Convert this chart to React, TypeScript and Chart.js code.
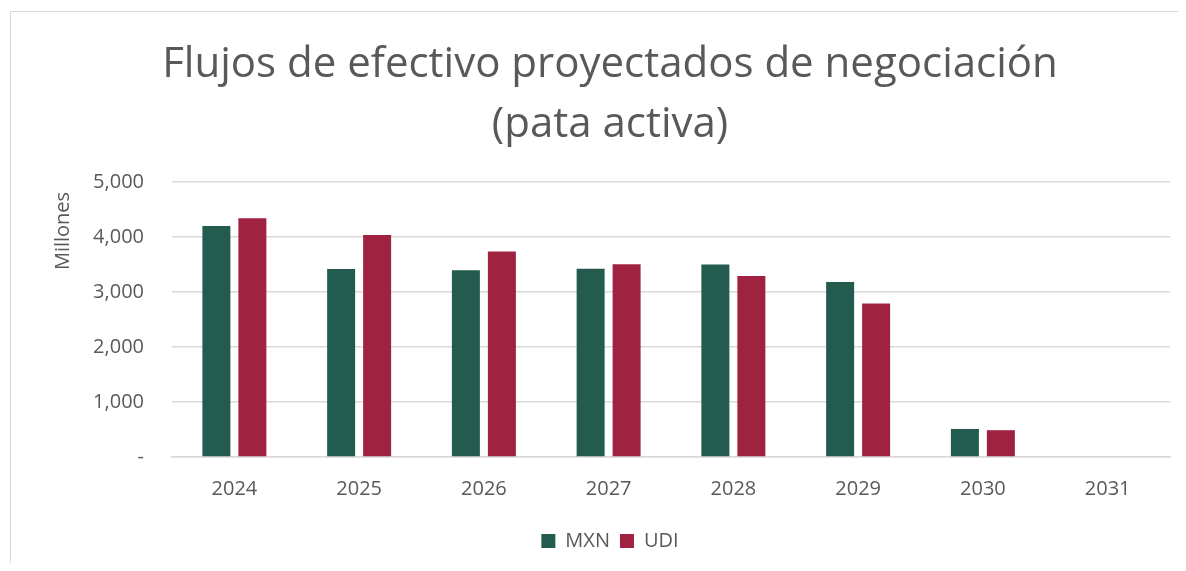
import React, { useEffect, useRef } from "react";
import { Chart, registerables } from "chart.js";

Chart.register(...registerables);

const categories = ["2024", "2025", "2026", "2027", "2028", "2029", "2030", "2031"];
const mxnValues = [4200, 3420, 3395, 3425, 3500, 3180, 510, 0];
const udiValues = [4340, 4035, 3735, 3505, 3290, 2790, 487, 0];
const titleLines = ["Flujos de efectivo proyectados de negociación", "(pata activa)"];
const yTitle = "Millones";

const FONT = "'Open Sans', sans-serif";
const TEXT = "#595959";

const yTitlePlugin = {
  id: "yTitlePlugin",
  afterDraw(chart: any) {
    const ctx = chart.ctx;
    ctx.save();
    ctx.translate(63, 231);
    ctx.rotate(-Math.PI / 2);
    ctx.fillStyle = TEXT;
    ctx.font = `20px ${FONT}`;
    ctx.textAlign = "center";
    ctx.textBaseline = "middle";
    ctx.fillText(yTitle, 0, 0);
    ctx.restore();
  },
};

export default function App() {
  const ref = useRef<HTMLCanvasElement | null>(null);
  useEffect(() => {
    if (!ref.current) return;
    const chart = new Chart(ref.current, {
      type: "bar",
      data: {
        labels: categories,
        datasets: [
          {
            label: "MXN",
            data: mxnValues,
            backgroundColor: "#235B4E",
            categoryPercentage: 0.577,
            barPercentage: 0.778,
          },
          {
            label: "UDI",
            data: udiValues,
            backgroundColor: "#9F2241",
            categoryPercentage: 0.577,
            barPercentage: 0.778,
          },
        ],
      },
      plugins: [yTitlePlugin],
      options: {
        animation: false,
        responsive: false,
        layout: { padding: { left: 50, right: 16, top: 0, bottom: 10 } },
        plugins: {
          title: {
            display: true,
            text: titleLines,
            color: TEXT,
            font: { family: FONT, size: 42, weight: "normal", lineHeight: 60 / 42 },
            padding: { top: 35, bottom: 27 },
          },
          legend: {
            position: "bottom",
            labels: {
              color: TEXT,
              font: { family: FONT, size: 20 },
              boxWidth: 14,
              boxHeight: 14,
              padding: 10,
            },
          },
          tooltip: { enabled: false },
        },
        scales: {
          x: {
            grid: { display: false, drawTicks: false },
            border: { color: "#d9d9d9", width: 1.5 },
            ticks: { color: TEXT, font: { family: FONT, size: 20 }, padding: 20, maxRotation: 0 },
          },
          y: {
            min: 0,
            max: 5000,
            grid: { color: "#d9d9d9", lineWidth: 1.5, drawTicks: false },
            border: { display: false },
            ticks: {
              stepSize: 1000,
              color: TEXT,
              font: { family: FONT, size: 20 },
              padding: 28,
              callback: (v: any) => (Number(v) === 0 ? "-" : Number(v).toLocaleString("en-US")),
            },
            title: { display: false },
            afterFit: (scale: any) => {
              scale.width = 122;
            },
          },
        },
      },
    });
    return () => chart.destroy();
  }, []);
  return (
    <div style={{ position: "relative", margin: -8, width: 1186, height: 571, overflow: "hidden", background: "#fff" }}>
      <div
        style={{
          position: "absolute",
          left: 10,
          top: 11,
          width: 1200,
          height: 600,
          border: "1.5px solid #d9d9d9",
          boxSizing: "border-box",
        }}
      />
      <canvas ref={ref} width={1186} height={571} style={{ position: "absolute", left: 0, top: 0 }} />
    </div>
  );
}
